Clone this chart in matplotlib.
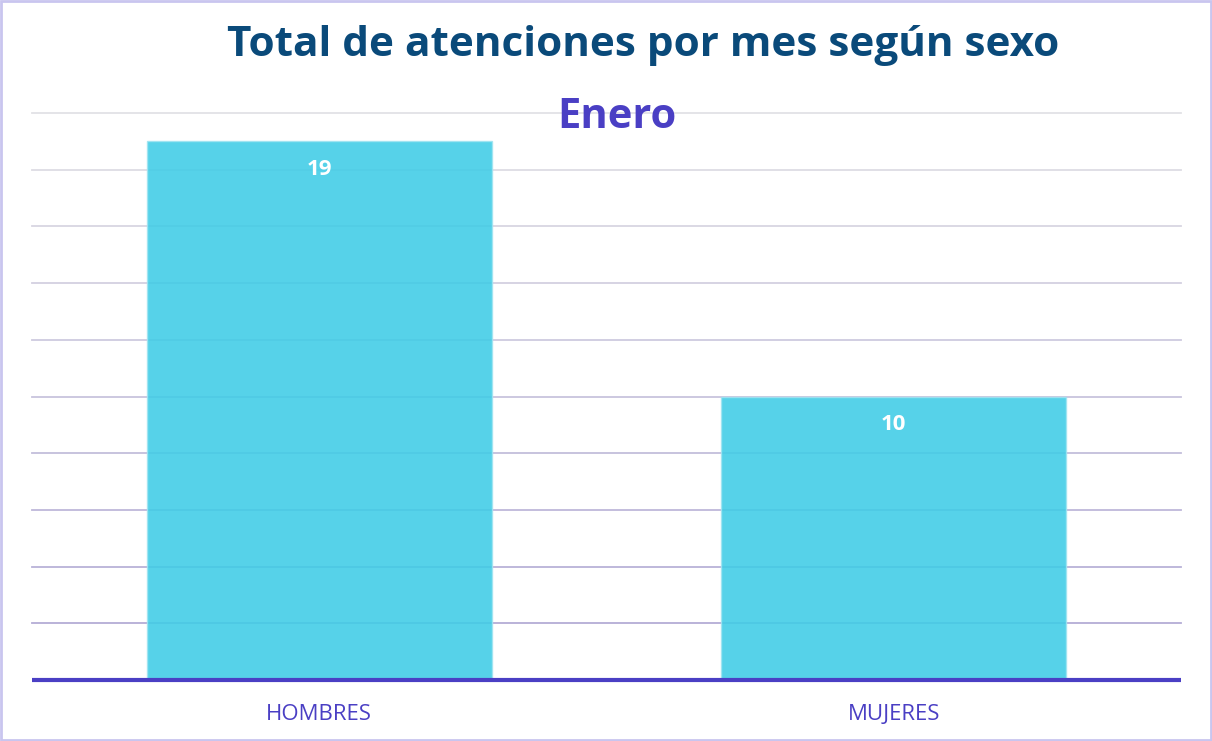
import numpy as np
import matplotlib
matplotlib.use("Agg")
import matplotlib.pyplot as plt
import matplotlib.colors as mcolors
from matplotlib.patches import Rectangle

# Data
categories = ["HOMBRES", "MUJERES"]
values = [19, 10]
title = "Total de atenciones por mes según sexo"
subtitle = "Enero"

plt.rcParams['font.family'] = ['Open Sans', 'DejaVu Sans']

fig = plt.figure(figsize=(12.12, 7.41), dpi=100)
ax = fig.add_axes([32 / 1212, 1 - 680 / 741, 1149 / 1212, 567 / 741])

x = np.arange(len(categories))

# gridlines fading from purple (bottom) to grey (top)
grid_vals = np.arange(2, 21, 2)
c_low = np.array(mcolors.to_rgb('#b4acd6'))
c_high = np.array(mcolors.to_rgb('#e2e2e6'))
for g in grid_vals:
    t = (g - 2) / (grid_vals[-1] - 2)
    ax.axhline(g, color=c_low * (1 - t) + c_high * t, lw=1.3, zorder=1, clip_on=False)

ax.bar(x, values, width=0.6, color='#3fcce6', alpha=0.88,
       edgecolor='#9fe4f1', linewidth=1, zorder=2)
ax.plot([-0.5, 1.5], [0, 0], color='#4a3fc4', lw=3, zorder=3,
        clip_on=False, solid_capstyle='butt')

for xi, v in zip(x, values):
    ax.text(xi, v - 1.0, str(v), ha='center', va='center', color='white',
            fontsize=16, fontweight='bold', zorder=4)

ax.set_xlim(-0.5, 1.5)
ax.set_ylim(0, 20)
ax.set_xticks(x)
ax.set_xticklabels(categories, color='#4a3fc4', fontsize=16)
ax.tick_params(axis='x', length=0, pad=17)
ax.set_yticks([])
for s in ax.spines.values():
    s.set_visible(False)

fig.text(643 / 1212, 1 - 45 / 741, title, ha='center', va='center',
         color='#0a4a7a', fontsize=30.4, fontweight='bold')
fig.text(617 / 1212, 1 - 118 / 741, subtitle, ha='center', va='center',
         color='#4a3fc4', fontsize=30, fontweight='bold')

fig.patches.append(Rectangle((0.001, 0.001), 0.998, 0.997, transform=fig.transFigure,
                             fill=False, edgecolor='#c9c5ef', lw=2))

fig.savefig('out.png', dpi=100)
